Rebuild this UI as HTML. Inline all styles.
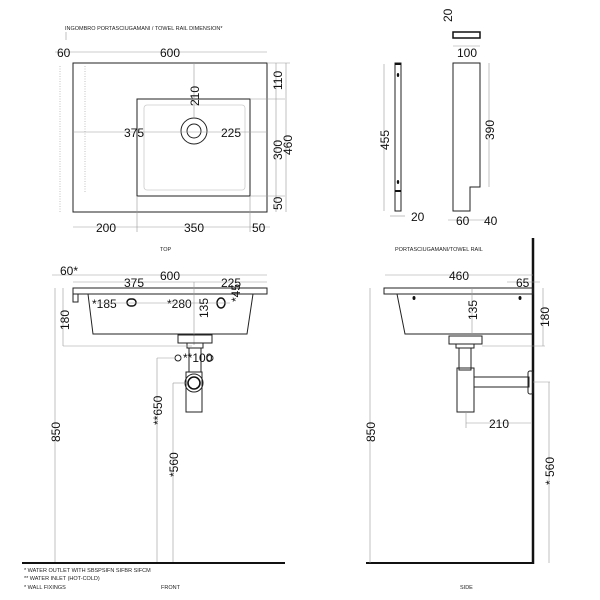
<!DOCTYPE html>
<html><head><meta charset="utf-8"><style>
html,body{margin:0;padding:0;background:#fff;}
svg{display:block;font-family:"Liberation Sans",sans-serif;}
.t{font-size:12px;fill:#111;}
.s{font-size:5.5px;fill:#222;}
.d{stroke:#999;stroke-width:0.6;fill:none;}
.k{stroke:#222;stroke-width:1;fill:none;}
</style></head><body>
<svg width="600" height="600" viewBox="0 0 600 600">
<!-- TOP VIEW -->
<text class="s" x="65" y="30">INGOMBRO PORTASCIUGAMANI / TOWEL RAIL DIMENSION*</text>
<line class="d" x1="66" y1="32" x2="66" y2="40"/>
<rect class="k" x="73" y="63" width="194" height="149"/>
<rect class="k" x="137" y="99" width="113" height="97"/>
<rect x="144" y="105" width="101" height="85" rx="3" fill="none" stroke="#ccc" stroke-width="0.8"/>
<circle cx="194" cy="131" r="13" class="k"/>
<circle cx="194" cy="131" r="7" class="k"/>
<line class="d" x1="60" y1="66" x2="60" y2="212" stroke-dasharray="1,1.5"/>
<line class="d" x1="85" y1="66" x2="85" y2="192" stroke-dasharray="1,1.5"/>
<line class="d" x1="55" y1="52" x2="267" y2="52"/>
<text class="t" x="57" y="57">60</text>
<text class="t" x="160" y="57">600</text>
<line class="d" x1="73" y1="132" x2="267" y2="132"/>
<line class="d" x1="194" y1="63" x2="194" y2="118"/>
<text class="t" x="124" y="137">375</text>
<text class="t" x="221" y="137">225</text>
<text class="t" transform="translate(199,106) rotate(-90)">210</text>
<line class="d" x1="250" y1="99" x2="285" y2="99"/>
<line class="d" x1="250" y1="196" x2="285" y2="196"/>
<line class="d" x1="267" y1="63" x2="290" y2="63"/>
<line class="d" x1="276" y1="63" x2="276" y2="212"/>
<line class="d" x1="286" y1="63" x2="286" y2="212"/>
<text class="t" transform="translate(282,90) rotate(-90)">110</text>
<text class="t" transform="translate(282,160) rotate(-90)">300</text>
<text class="t" transform="translate(292,155) rotate(-90)">460</text>
<text class="t" transform="translate(282,210) rotate(-90)">50</text>
<line class="d" x1="73" y1="227" x2="270" y2="227"/>
<line class="d" x1="137" y1="196" x2="137" y2="232"/>
<line class="d" x1="250" y1="196" x2="250" y2="232"/>
<text class="t" x="96" y="232">200</text>
<text class="t" x="184" y="232">350</text>
<text class="t" x="252" y="232">50</text>
<text class="s" x="160" y="251">TOP</text>

<!-- TOWEL RAIL -->
<rect class="k" x="395" y="63" width="6" height="148"/>
<rect x="395" y="63" width="6" height="2" fill="#111"/>
<rect x="395" y="190" width="6" height="2" fill="#111"/>
<ellipse cx="398" cy="75" rx="1.2" ry="2" fill="#111"/>
<ellipse cx="398" cy="182" rx="1.2" ry="2" fill="#111"/>
<line class="d" x1="384" y1="64" x2="384" y2="211"/>
<text class="t" transform="translate(389,150) rotate(-90)">455</text>
<line class="d" x1="390" y1="216" x2="405" y2="216"/>
<text class="t" x="411" y="221">20</text>
<rect x="453" y="32" width="27" height="6" fill="none" stroke="#111" stroke-width="1.5"/>
<text class="t" transform="translate(452,22) rotate(-90)">20</text>
<line class="d" x1="453" y1="46" x2="480" y2="46"/>
<text class="t" x="457" y="57">100</text>
<polygon class="k" points="453,63 480,63 480,187 470,187 470,211 453,211"/>
<line class="d" x1="489" y1="63" x2="489" y2="187"/>
<text class="t" transform="translate(494,140) rotate(-90)">390</text>
<line class="d" x1="448" y1="220" x2="490" y2="220"/>
<text class="t" x="456" y="225">60</text>
<text class="t" x="484" y="225">40</text>
<text class="s" x="395" y="251">PORTASCIUGAMANI/TOWEL RAIL</text>

<!-- FRONT VIEW -->
<line class="d" x1="52" y1="275" x2="267" y2="275"/>
<line class="d" x1="73" y1="282" x2="267" y2="282"/>
<text class="t" x="60" y="275">60*</text>
<text class="t" x="160" y="280">600</text>
<text class="t" x="124" y="287">375</text>
<text class="t" x="221" y="287">225</text>
<rect class="k" x="73" y="288" width="194" height="6"/>
<polygon class="k" points="73,294 78,294 78,302 73,302"/>
<polygon class="k" points="88,294 253,294 247,334 93,334"/>
<line class="d" x1="194" y1="282" x2="194" y2="345"/>
<text class="t" x="92" y="308">*185</text>
<text class="t" x="167" y="308">*280</text>
<rect x="127" y="299" width="9" height="7" rx="3.5" fill="none" stroke="#111" stroke-width="1.5"/>
<ellipse cx="221" cy="303" rx="4" ry="5" fill="none" stroke="#111" stroke-width="1.5"/>
<line class="d" x1="97" y1="303" x2="230" y2="303"/>
<text class="t" transform="translate(208,318) rotate(-90)">135</text>
<text class="t" transform="translate(240,302) rotate(-90)">*45</text>
<rect class="k" x="178" y="335" width="34" height="8"/>
<rect class="k" x="187" y="343" width="16" height="5"/>
<rect class="k" x="189" y="348" width="12" height="24"/>
<rect class="k" x="186" y="372" width="16" height="40"/>
<circle cx="194" cy="383" r="9" class="k"/>
<circle cx="194" cy="383" r="6" fill="none" stroke="#111" stroke-width="1.6"/>
<circle cx="178" cy="358" r="3" class="k"/>
<circle cx="210" cy="358" r="3" class="k"/>
<text class="t" x="183" y="362">**100</text>
<line class="d" x1="63" y1="288" x2="63" y2="346"/>
<line class="d" x1="63" y1="346" x2="192" y2="346"/>
<text class="t" transform="translate(69,330) rotate(-90)">180</text>
<line class="d" x1="55" y1="288" x2="55" y2="563"/>
<text class="t" transform="translate(60,442) rotate(-90)">850</text>
<line class="d" x1="157" y1="358" x2="157" y2="563"/>
<line class="d" x1="157" y1="358" x2="176" y2="358"/>
<text class="t" transform="translate(162,425) rotate(-90)">**650</text>
<line class="d" x1="173" y1="383" x2="173" y2="563"/>
<line class="d" x1="173" y1="383" x2="186" y2="383"/>
<text class="t" transform="translate(178,477) rotate(-90)">*560</text>
<line x1="22" y1="563" x2="285" y2="563" stroke="#111" stroke-width="2"/>
<text class="s" x="24" y="572">*  WATER OUTLET WITH SBSPSIFN SIFBR SIFCM</text>
<text class="s" x="24" y="580">** WATER INLET  (HOT-COLD)</text>
<text class="s" x="24" y="589">* WALL FIXINGS</text>
<text class="s" x="161" y="589">FRONT</text>

<!-- SIDE VIEW -->
<line x1="533" y1="238" x2="533" y2="564" stroke="#111" stroke-width="2.5"/>
<line x1="366" y1="563" x2="534" y2="563" stroke="#111" stroke-width="2"/>
<line class="d" x1="385" y1="275" x2="533" y2="275"/>
<text class="t" x="449" y="280">460</text>
<line class="d" x1="507" y1="282" x2="540" y2="282"/>
<text class="t" x="516" y="287">65</text>
<rect class="k" x="384" y="288" width="149" height="6"/>
<polyline class="k" points="397,294 405,334 533,334"/>
<ellipse cx="414" cy="298" rx="1.5" ry="2" fill="#111"/>
<ellipse cx="520" cy="298" rx="1.5" ry="2" fill="#111"/>
<line class="d" x1="472" y1="288" x2="472" y2="334"/>
<text class="t" transform="translate(477,320) rotate(-90)">135</text>
<rect class="k" x="449" y="336" width="33" height="8"/>
<rect class="k" x="456" y="344" width="18" height="4"/>
<rect class="k" x="459" y="348" width="12" height="22"/>
<rect class="k" x="457" y="368" width="17" height="44"/>
<rect class="k" x="474" y="377" width="55" height="10"/>
<rect class="k" x="528" y="371" width="5" height="23" rx="2"/>
<line class="d" x1="543" y1="288" x2="543" y2="346"/>
<line class="d" x1="482" y1="346" x2="545" y2="346"/>
<text class="t" transform="translate(549,327) rotate(-90)">180</text>
<line class="d" x1="370" y1="288" x2="370" y2="563"/>
<text class="t" transform="translate(375,442) rotate(-90)">850</text>
<line class="d" x1="466" y1="423" x2="531" y2="423"/>
<line class="d" x1="466" y1="412" x2="466" y2="428"/>
<text class="t" x="489" y="428">210</text>
<line class="d" x1="549" y1="382" x2="549" y2="563"/>
<line class="d" x1="533" y1="382" x2="550" y2="382"/>
<text class="t" transform="translate(554,485) rotate(-90)">* 560</text>
<text class="s" x="460" y="589">SIDE</text>
</svg>
</body></html>
